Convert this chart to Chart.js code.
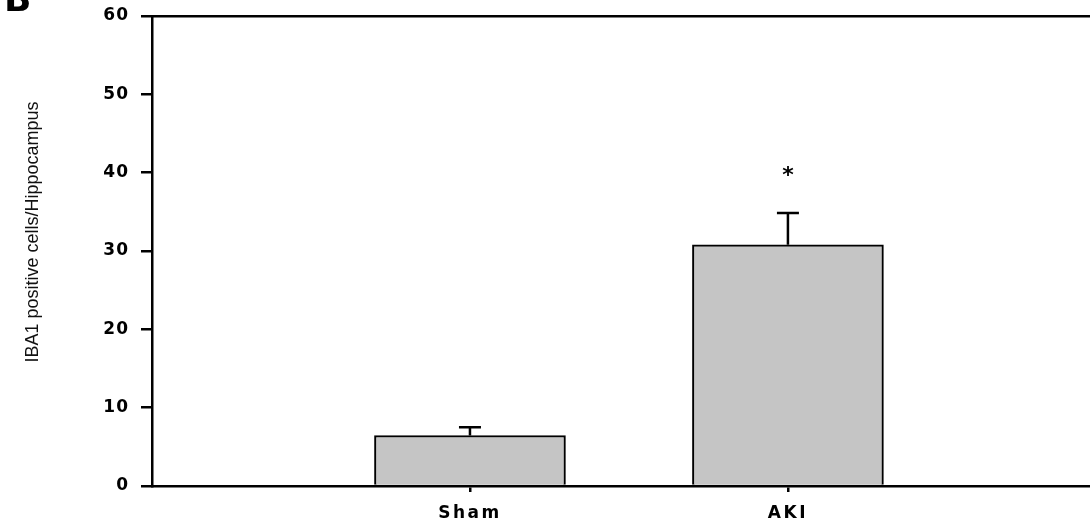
<!DOCTYPE html>
<html>
<head>
<meta charset="utf-8">
<script src="https://cdn.jsdelivr.net/npm/chart.js@4/dist/chart.umd.min.js"></script>
<style>
  html, body { margin: 0; padding: 0; background: #fff; overflow: hidden; }
  #wrap { width: 1090px; height: 523px; position: relative; }
</style>
</head>
<body>
<div id="wrap"><canvas id="c" width="1090" height="523"></canvas></div>
<script>
// Group names, mean counts and SEM
const categories = ['Sham', 'AKI'];
const meanValues = [6.45, 30.8];
const semValues = [1.05, 4.05];
const significance = ['', '*'];
const yTicks = [0, 10, 20, 30, 40, 50, 60];
const yTitle = 'IBA1 positive cells/Hippocampus';
const panelLabel = 'B';

const yTickFont = { family: '"DejaVu Sans", sans-serif', size: 17, weight: 'bold' };
const xTickFont = { family: '"DejaVu Sans", sans-serif', size: 17, weight: 'bold' };

// Error bars, significance marks, axis title and panel letter
const decor = {
  id: 'decor',
  beforeDraw(chart) {
    chart.ctx.letterSpacing = '1px';
  },
  beforeDatasetsDraw(chart) {
    chart.ctx.letterSpacing = '0px';
  },
  afterDatasetsDraw(chart) {
    const { ctx, scales: { x, y } } = chart;
    ctx.save();
    ctx.strokeStyle = '#000';
    ctx.fillStyle = '#000';
    ctx.lineWidth = 2.5;
    categories.forEach((c, i) => {
      const px = x.getPixelForValue(i + 1);
      const yBase = y.getPixelForValue(meanValues[i]);
      const yTop = y.getPixelForValue(meanValues[i] + semValues[i]);
      ctx.beginPath();
      ctx.moveTo(px, yBase);
      ctx.lineTo(px, yTop);
      ctx.moveTo(px - 11, yTop);
      ctx.lineTo(px + 11, yTop);
      ctx.stroke();
      if (significance[i]) {
        ctx.font = 'bold 22px "DejaVu Sans", sans-serif';
        ctx.textAlign = 'center';
        ctx.textBaseline = 'alphabetic';
        ctx.fillText(significance[i], px, yTop - 31);
      }
    });
    ctx.restore();
    ctx.letterSpacing = '2.5px';
  },
  afterDraw(chart) {
    const { ctx } = chart;
    ctx.letterSpacing = '0px';
    ctx.save();
    ctx.fillStyle = '#111';
    ctx.font = '18px "Liberation Sans", Arial, sans-serif';
    ctx.translate(37.5, 232);
    ctx.rotate(-Math.PI / 2);
    ctx.textAlign = 'center';
    ctx.textBaseline = 'alphabetic';
    ctx.fillText(yTitle, 0, 0);
    ctx.restore();

    ctx.save();
    ctx.fillStyle = '#000';
    ctx.font = 'bold 36px "DejaVu Sans", sans-serif';
    ctx.textAlign = 'left';
    ctx.textBaseline = 'alphabetic';
    ctx.fillText(panelLabel, 4, 10.5);
    ctx.restore();
  }
};

new Chart(document.getElementById('c'), {
  type: 'bar',
  data: {
    datasets: [{
      data: categories.map((c, i) => ({ x: i + 1, y: meanValues[i] })),
      backgroundColor: '#c5c5c5',
      borderColor: '#000',
      borderWidth: 2,
      borderSkipped: 'bottom',
      barThickness: 191
    }]
  },
  options: {
    responsive: false,
    animation: false,
    devicePixelRatio: 1,
    layout: { padding: { top: 16, left: 0, right: 0, bottom: 0 } },
    plugins: { legend: { display: false }, tooltip: { enabled: false } },
    scales: {
      x: {
        type: 'linear',
        position: 'bottom',
        offset: false,
        min: 0,
        max: 2.95,
        afterBuildTicks: (s) => { s.ticks = categories.map((c, i) => ({ value: i + 1 })); },
        afterFit: (s) => { s.height = 37; s.paddingLeft = 0; s.paddingRight = 0; },
        ticks: {
          z: 1,
          color: '#000',
          font: xTickFont,
          padding: 11,
          maxRotation: 0,
          autoSkip: false,
          callback: (v) => categories[v - 1] ?? ''
        },
        grid: { offset: false, drawOnChartArea: false, drawTicks: true, tickLength: 6, color: '#000', lineWidth: 2.5 },
        border: { display: true, color: '#000', width: 2.5, z: 1 }
      },
      x2: {
        type: 'linear',
        position: 'top',
        offset: false,
        min: 0,
        max: 2.95,
        afterFit: (s) => { s.height = 0; s.paddingLeft = 0; s.paddingRight = 0; },
        ticks: { display: false },
        grid: { display: false, drawTicks: false },
        border: { display: true, color: '#000', width: 2.5 }
      },
      y: {
        min: 0,
        max: 60,
        afterBuildTicks: (s) => { s.ticks = yTicks.map(v => ({ value: v })); },
        afterFit: (s) => { s.width = 152; s.paddingTop = 0; s.paddingBottom = 0; },
        ticks: { color: '#000', font: yTickFont, padding: 12 },
        grid: { drawOnChartArea: false, drawTicks: true, tickLength: 11, color: '#000', lineWidth: 2.5 },
        border: { display: true, color: '#000', width: 2.5 }
      }
    }
  },
  plugins: [decor]
});
</script>
</body>
</html>
